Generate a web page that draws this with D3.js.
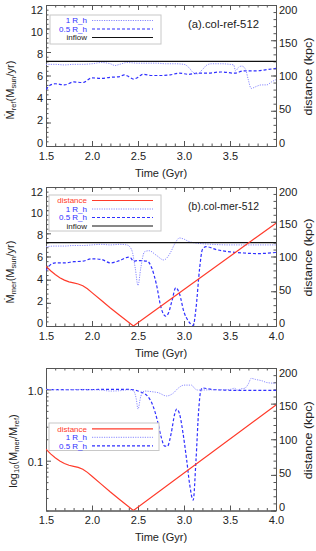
<!DOCTYPE html>
<html>
<head>
<meta charset="utf-8">
<script src="https://cdn.jsdelivr.net/npm/d3@7"></script>
<style>
body { margin: 0; background: #fff; }
svg { display: block; font-family: 'Liberation Sans', Arial, sans-serif; }
</style>
</head>
<body>
<svg id="chart" width="316" height="551"></svg>
<script>
/* global d3 */

// ---- data ----
const xTicks = [1.5, 2.0, 2.5, 3.0, 3.5, 4.0]
const yTicksLin = [0, 2, 4, 6, 8, 10, 12]
const yTicksLog = [0.1, 1.0]
const distTicks = [0, 50, 100, 150, 200]

const inflowT = [1.5, 4.0]
const inflowV = [7.2, 7.2]

// (a) reference run
const refR1T = [1.5, 1.6, 1.7, 1.8, 1.9, 2.0, 2.1, 2.2, 2.25, 2.3, 2.38, 2.5, 2.6, 2.7, 2.8, 2.9, 3.0, 3.05, 3.1, 3.14, 3.2, 3.25, 3.3, 3.4, 3.5, 3.54, 3.56, 3.6, 3.63, 3.67, 3.7, 3.73, 3.78, 3.84, 3.9, 3.95, 4.0]
const refR1V = [6.95, 6.95, 6.9, 6.95, 6.95, 7.0, 7.1, 7.0, 6.85, 6.95, 7.1, 7.05, 7.05, 7.05, 7.0, 7.0, 6.95, 6.7, 6.25, 6.13, 6.5, 6.9, 7.0, 7.0, 6.95, 6.9, 6.4, 6.75, 6.8, 6.5, 5.6, 4.9, 5.05, 5.2, 5.2, 5.45, 5.65]
const refR05T = [1.5, 1.55, 1.6, 1.7, 1.8, 1.9, 2.0, 2.1, 2.2, 2.3, 2.35, 2.4, 2.45, 2.5, 2.55, 2.65, 2.75, 2.85, 2.95, 3.05, 3.15, 3.25, 3.4, 3.55, 3.65, 3.8, 3.9, 4.0]
const refR05V = [4.8, 5.2, 5.3, 5.2, 5.45, 5.4, 5.8, 5.75, 5.85, 5.9, 6.05, 5.9, 5.7, 5.85, 6.1, 6.0, 6.0, 6.05, 6.2, 6.1, 6.2, 6.2, 6.3, 6.2, 6.4, 6.4, 6.5, 6.6]

// (b) merger run
const merR1T = [1.5, 1.6, 1.7, 1.8, 1.9, 2.0, 2.1, 2.2, 2.3, 2.38, 2.43, 2.47, 2.5, 2.53, 2.57, 2.62, 2.7, 2.78, 2.85, 2.9, 2.95, 3.0, 3.05, 3.1, 3.2, 3.3, 3.5, 3.7, 4.0]
const merR1V = [6.85, 6.9, 6.9, 6.95, 6.95, 7.0, 7.05, 7.0, 7.05, 7.0, 6.6, 5.0, 3.5, 5.0, 6.4, 6.5, 6.1, 5.7, 6.3, 7.1, 7.6, 7.5, 7.3, 7.2, 7.1, 7.05, 7.0, 7.0, 7.0]
const merR05T = [1.5, 1.55, 1.6, 1.7, 1.8, 1.9, 2.0, 2.1, 2.2, 2.3, 2.4, 2.42, 2.45, 2.5, 2.6, 2.65, 2.7, 2.75, 2.8, 2.83, 2.87, 2.91, 2.95, 3.0, 3.05, 3.1, 3.13, 3.17, 3.2, 3.24, 3.35, 3.5, 3.65, 3.8, 4.0]
const merR05V = [4.8, 5.3, 5.45, 5.45, 5.55, 5.6, 5.8, 5.75, 5.45, 5.65, 5.95, 5.9, 5.6, 5.65, 5.6, 5.0, 3.6, 1.6, 0.85, 1.1, 2.2, 3.3, 2.8, 1.2, 0.4, 0.05, 1.5, 5.0, 6.6, 6.85, 6.6, 6.4, 6.3, 6.25, 6.35]

// (c) ratio merger / reference
const ratR1T = [1.5, 1.7, 1.9, 2.0, 2.1, 2.2, 2.3, 2.4, 2.45, 2.48, 2.5, 2.53, 2.57, 2.65, 2.72, 2.81, 2.88, 2.94, 3.0, 3.08, 3.12, 3.15, 3.3, 3.5, 3.55, 3.58, 3.62, 3.66, 3.7, 3.73, 3.78, 3.85, 3.9, 4.0]
const ratR1V = [1.0, 0.99, 1.0, 0.99, 0.98, 0.95, 0.96, 0.99, 0.96, 0.75, 0.53, 0.8, 0.95, 0.93, 0.9, 0.81, 0.88, 1.05, 1.15, 1.15, 1.02, 0.98, 0.99, 1.0, 1.04, 0.98, 1.02, 1.04, 1.2, 1.43, 1.38, 1.32, 1.25, 1.22]
const ratR05T = [1.5, 1.8, 2.1, 2.4, 2.45, 2.52, 2.59, 2.66, 2.71, 2.75, 2.79, 2.82, 2.86, 2.9, 2.92, 2.95, 2.99, 3.03, 3.06, 3.1, 3.13, 3.16, 3.18, 3.2, 3.3, 3.6, 4.0]
const ratR05V = [1.0, 0.99, 1.0, 1.0, 0.99, 0.93, 0.84, 0.6, 0.37, 0.22, 0.16, 0.16, 0.24, 0.46, 0.53, 0.46, 0.24, 0.1, 0.048, 0.028, 0.1, 0.52, 0.93, 1.05, 1.0, 0.97, 0.97]

// distance between the galaxies (kpc)
const distT = [1.5, 1.55, 1.6, 1.65, 1.7, 1.75, 1.8, 1.85, 1.9, 1.95, 2.0, 2.1, 2.2, 2.3, 2.45, 4.0]
const distV = [86, 79.5, 74, 69.5, 66, 63.5, 62, 60.5, 58, 53.5, 48, 37, 26, 15.5, 0, 148]

// ---- styles ----
const AXIS = '#555'
const TEXT = '#222'
const styles = {
  r1: { stroke: '#8a8aff', dash: '1.2,1.2', width: 1 },
  r05: { stroke: '#2f2fff', dash: '3,2', width: 1.2 },
  inflow: { stroke: '#111', dash: null, width: 1.2 },
  dist: { stroke: '#ff3b2b', dash: null, width: 1.2 }
}

const svg = d3.select('#chart')
const x = d3.scaleLinear().domain([1.5, 4.0]).range([46, 276])

const xMinor = d3.range(15, 41).map(d => d / 10)
const distMinor = d3.range(0, 201, 10)

function zip (ts, vs) { return ts.map((t, i) => [t, vs[i]]) }

function styleAxis (g) {
  g.select('.domain').attr('stroke', AXIS).attr('stroke-width', 1)
  g.selectAll('.tick line').attr('stroke', AXIS)
  g.selectAll('.tick text').attr('fill', TEXT).style('font-size', '11px')
    .style('font-family', "'Liberation Sans', Arial, sans-serif")
}

// the y labels of the original sit a little inside the frame ends
function squeezeLabels (g, scale, p) {
  g.selectAll('.tick text')
    .attr('y', d => 4.5 - 8 * (scale(d) - p.top) / (p.bottom - p.top))
}

function drawPanel (p) {
  const g = svg.append('g')
  const y = p.log
    ? d3.scaleLog().domain([0.02, 2]).range([p.bottom, p.top])
    : d3.scaleLinear().domain([0, 12]).range([p.bottom, p.top])
  const yd = d3.scaleLinear().domain([0, 200]).range([p.bottom, p.top])

  // minor ticks
  g.append('g').attr('transform', `translate(0,${p.bottom})`)
    .call(d3.axisBottom(x).tickValues(xMinor).tickSize(-2.5).tickSizeOuter(0).tickFormat(''))
    .call(styleAxis)
  g.append('g').attr('transform', `translate(0,${p.top})`)
    .call(d3.axisTop(x).tickValues(xMinor).tickSize(-2.5).tickSizeOuter(0).tickFormat(''))
    .call(styleAxis)
  const yMinor = p.log
    ? [0.02, 0.03, 0.04, 0.05, 0.06, 0.07, 0.08, 0.09, 0.2, 0.3, 0.4, 0.5, 0.6, 0.7, 0.8, 0.9, 2]
    : d3.range(0, 61, 2).map(d => d / 5)
  g.append('g').attr('transform', 'translate(46,0)')
    .call(d3.axisLeft(y).tickValues(yMinor).tickSize(-2.5).tickSizeOuter(0).tickFormat(''))
    .call(styleAxis)
  g.append('g').attr('transform', 'translate(276,0)')
    .call(d3.axisRight(yd).tickValues(distMinor).tickSize(-2.5).tickSizeOuter(0).tickFormat(''))
    .call(styleAxis)

  // major ticks + labels
  g.append('g').attr('transform', `translate(0,${p.bottom})`)
    .call(d3.axisBottom(x).tickValues(xTicks).tickSize(-5).tickSizeOuter(0).tickPadding(6)
      .tickFormat(d => (d > 3.9 && !p.lastX) ? '' : d3.format('.1f')(d)))
    .call(styleAxis)
  g.append('g').attr('transform', `translate(0,${p.top})`)
    .call(d3.axisTop(x).tickValues(xTicks).tickSize(-5).tickSizeOuter(0).tickFormat(''))
    .call(styleAxis)
  const left = g.append('g').attr('transform', 'translate(46,0)')
    .call(d3.axisLeft(y).tickValues(p.log ? yTicksLog : yTicksLin).tickSize(-5).tickSizeOuter(0).tickPadding(3)
      .tickFormat(p.log ? d3.format('.1f') : d3.format('d')))
    .call(styleAxis)
  if (p.log) left.selectAll('.tick text').attr('y', 1.7)
  else squeezeLabels(left, y, p)
  const right = g.append('g').attr('transform', 'translate(276,0)')
    .call(d3.axisRight(yd).tickValues(distTicks).tickSize(-5).tickSizeOuter(0).tickPadding(3))
    .call(styleAxis)
  squeezeLabels(right, yd, p)

  // series
  const clipId = 'clip' + p.top
  g.append('clipPath').attr('id', clipId).append('rect')
    .attr('x', 46).attr('y', p.top).attr('width', 230).attr('height', p.bottom - p.top)
  const plot = g.append('g').attr('clip-path', `url(#${clipId})`)
  p.series.forEach(s => {
    const st = styles[s.style]
    const sc = s.style === 'dist' ? yd : y
    const line = d3.line()
      .curve(s.style === 'dist' ? d3.curveLinear : d3.curveMonotoneX)
      .x(d => x(d[0])).y(d => sc(d[1]))
    plot.append('path').datum(zip(s.t, s.v))
      .attr('d', line)
      .attr('fill', 'none')
      .attr('stroke', st.stroke)
      .attr('stroke-width', st.width)
      .attr('stroke-dasharray', st.dash)
  })

  // legend
  const L = p.legend
  g.append('rect').attr('x', L.x).attr('y', L.y).attr('width', L.w).attr('height', L.h)
    .attr('fill', '#fff').attr('stroke', '#c8c8c8').attr('stroke-width', 1)
  L.items.forEach((it, i) => {
    const st = styles[it.style]
    const yy = L.y0 + i * L.step
    g.append('text').attr('x', 87).attr('y', yy).attr('dy', '0.35em')
      .attr('text-anchor', 'end').style('font-size', '8px')
      .attr('fill', it.color).text(it.label)
    g.append('line').attr('x1', 92).attr('x2', 153).attr('y1', yy).attr('y2', yy)
      .attr('stroke', st.stroke).attr('stroke-width', st.width).attr('stroke-dasharray', st.dash)
  })

  if (p.tag) {
    g.append('text').attr('x', 188).attr('y', p.tagY).attr('dy', '0.35em')
      .style('font-size', '10px').attr('fill', TEXT)
      .attr('textLength', 71).attr('lengthAdjust', 'spacingAndGlyphs')
      .text(p.tag)
  }

  // titles
  g.append('text').attr('x', 161).attr('y', p.bottom + 27).attr('dy', '0.35em')
    .attr('text-anchor', 'middle').style('font-size', '11px').attr('fill', TEXT)
    .text('Time (Gyr)')

  g.append('text')
    .attr('transform', `translate(308,${(p.top + p.bottom) / 2 + 1}) rotate(-90)`)
    .attr('text-anchor', 'middle').attr('dy', '0.35em')
    .style('font-size', '11px').attr('fill', TEXT)
    .attr('textLength', 78).attr('lengthAdjust', 'spacingAndGlyphs')
    .text('distance (kpc)')

  const yt = g.append('text')
    .attr('transform', `translate(${p.ylabX},${p.ylabY}) rotate(-90)`)
    .attr('text-anchor', 'middle').attr('dy', '0.35em')
    .style('font-size', '11px').attr('fill', TEXT)
  p.ylab.forEach(part => {
    const ts = yt.append('tspan').text(part[0])
    if (part[1] === 'sub') ts.style('font-size', '7.5px').attr('dy', 2.5)
    if (part[1] === 'up') ts.attr('dy', -2.5)
  })
}

const panels = [
  {
    top: 5, bottom: 146, log: false, lastX: false,
    series: [
      { t: refR05T, v: refR05V, style: 'r05' },
      { t: refR1T, v: refR1V, style: 'r1' },
      { t: inflowT, v: inflowV, style: 'inflow' }
    ],
    legend: {
      x: 50, y: 15, w: 111, h: 29, y0: 20.5, step: 8.5,
      items: [
        { label: '1 R_h', color: '#2f2fff', style: 'r1' },
        { label: '0.5 R_h', color: '#2f2fff', style: 'r05' },
        { label: 'inflow', color: TEXT, style: 'inflow' }
      ]
    },
    tag: '(a).col-ref-512', tagY: 24.5,
    ylabX: 10, ylabY: 90,
    ylab: [['Ṁ'], ['ref', 'sub'], ['(M', 'up'], ['sun', 'sub'], ['/yr)', 'up']]
  },
  {
    top: 187, bottom: 326, log: false, lastX: true,
    series: [
      { t: merR05T, v: merR05V, style: 'r05' },
      { t: merR1T, v: merR1V, style: 'r1' },
      { t: inflowT, v: inflowV, style: 'inflow' },
      { t: distT, v: distV, style: 'dist' }
    ],
    legend: {
      x: 49, y: 195, w: 112, h: 36, y0: 200.5, step: 8.5,
      items: [
        { label: 'distance', color: '#ff3b2b', style: 'dist' },
        { label: '1 R_h', color: '#2f2fff', style: 'r1' },
        { label: '0.5 R_h', color: '#2f2fff', style: 'r05' },
        { label: 'inflow', color: TEXT, style: 'inflow' }
      ]
    },
    tag: '(b).col-mer-512', tagY: 206,
    ylabX: 10, ylabY: 272,
    ylab: [['Ṁ'], ['mer', 'sub'], ['(M', 'up'], ['sun', 'sub'], ['/yr)', 'up']]
  },
  {
    top: 368, bottom: 510.5, log: true, lastX: true,
    series: [
      { t: ratR05T, v: ratR05V, style: 'r05' },
      { t: ratR1T, v: ratR1V, style: 'r1' },
      { t: distT, v: distV, style: 'dist' }
    ],
    legend: {
      x: 49, y: 423, w: 110, h: 27.5, y0: 428.8, step: 8.5,
      items: [
        { label: 'distance', color: '#ff3b2b', style: 'dist' },
        { label: '1 R_h', color: '#2f2fff', style: 'r1' },
        { label: '0.5 R_h', color: '#2f2fff', style: 'r05' }
      ]
    },
    tag: null,
    ylabX: 13, ylabY: 451,
    ylab: [['log'], ['10', 'sub'], ['(M', 'up'], ['mer', 'sub'], ['/M', 'up'], ['ref', 'sub'], [')', 'up']]
  }
]

panels.forEach(drawPanel)
</script>
</body>
</html>
